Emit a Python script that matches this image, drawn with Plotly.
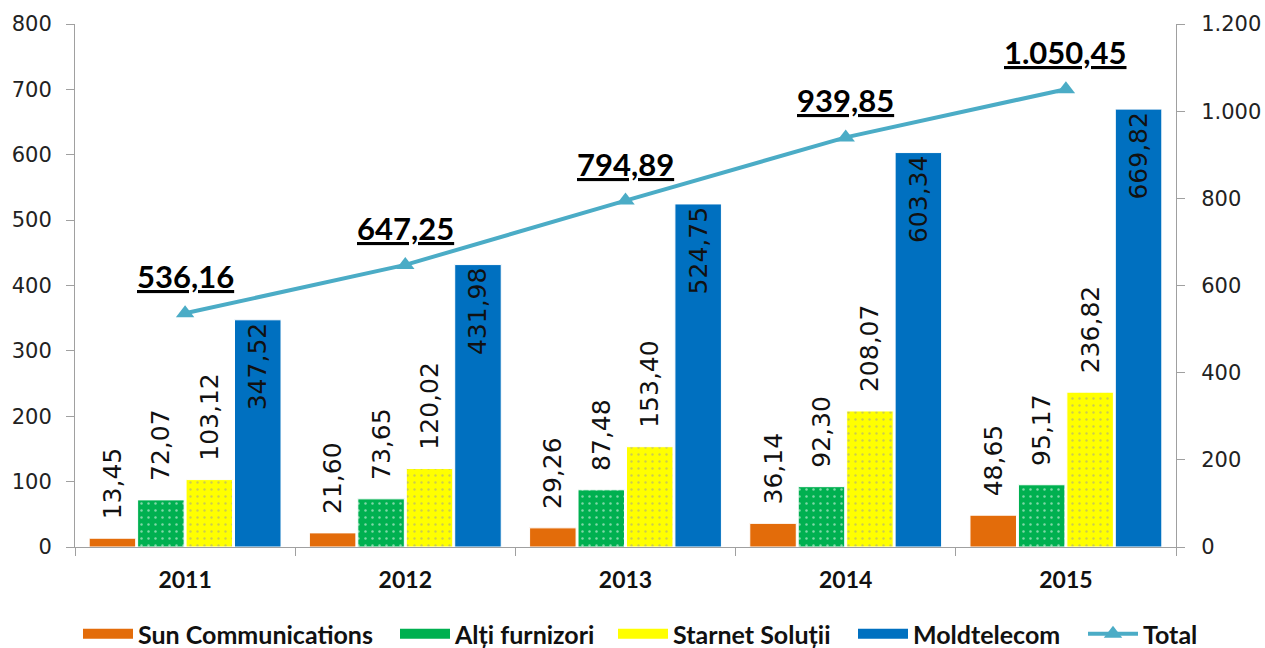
import plotly.graph_objects as go

years = ["2011", "2012", "2013", "2014", "2015"]
sun = [13.45, 21.60, 29.26, 36.14, 48.65]
alti = [72.07, 73.65, 87.48, 92.30, 95.17]
starnet = [103.12, 120.02, 153.40, 208.07, 236.82]
moldtelecom = [347.52, 431.98, 524.75, 603.34, 669.82]
total = [536.16, 647.25, 794.89, 939.85, 1050.45]
left_ticks = [0, 100, 200, 300, 400, 500, 600, 700, 800]
right_ticks = [0, 200, 400, 600, 800, 1000, 1200]
right_ticktext = ["0", "200", "400", "600", "800", "1.000", "1.200"]


def ro(v):
    s = f"{v:,.2f}"
    return s.replace(",", "X").replace(".", ",").replace("X", ".")


FONT = "Lato"
LBLFONT = "DejaVu Sans"
LBL = dict(family=LBLFONT, size=25, color="#111111")
PAD = "\u00a0\u00a0"
C_SUN, C_ALTI, C_STAR, C_MOLD, C_TOT = "#E36C0A", "#00B050", "#FFFF00", "#0070C0", "#4BACC6"

fig = go.Figure()

fig.add_trace(go.Bar(
    name="Sun Communications", x=years, y=sun, showlegend=False,
    marker=dict(color=C_SUN, line=dict(color="white", width=1)),
    text=[PAD + ro(v) for v in sun], textposition="outside", textangle=-90,
    textfont=LBL, constraintext="none", cliponaxis=False,
))
fig.add_trace(go.Bar(
    name="Alți furnizori", x=years, y=alti, showlegend=False,
    marker=dict(color=C_ALTI, line=dict(color="white", width=1),
                pattern=dict(shape=".", bgcolor=C_ALTI, fgcolor="#FFFFFF",
                             size=7, solidity=0.1)),
    text=[PAD + ro(v) for v in alti], textposition="outside", textangle=-90,
    textfont=LBL, constraintext="none", cliponaxis=False,
))
fig.add_trace(go.Bar(
    name="Starnet Soluții", x=years, y=starnet, showlegend=False,
    marker=dict(color=C_STAR, line=dict(color="white", width=1),
                pattern=dict(shape=".", bgcolor=C_STAR, fgcolor="#999999",
                             size=7, solidity=0.1)),
    text=[PAD + ro(v) for v in starnet], textposition="outside", textangle=-90,
    textfont=LBL, constraintext="none", cliponaxis=False,
))
fig.add_trace(go.Bar(
    name="Moldtelecom", x=years, y=moldtelecom, showlegend=False,
    marker=dict(color=C_MOLD, line=dict(color="white", width=1)),
    text=[ro(v) for v in moldtelecom], textposition="inside", insidetextanchor="end",
    textangle=-90, insidetextfont=LBL, constraintext="none",
))
fig.add_trace(go.Scatter(
    name="Total", x=years, y=total, yaxis="y2", mode="lines+markers", legend="legend5",
    line=dict(color=C_TOT, width=4),
    marker=dict(symbol="triangle-up", size=16, color=C_TOT),
))

# legend swatches (wide rectangles, as in the original legend)
for nm, col, lg in [("Sun Communications", C_SUN, "legend"),
                    ("Alți furnizori", C_ALTI, "legend2"),
                    ("Starnet Soluții", C_STAR, "legend3"),
                    ("Moldtelecom", C_MOLD, "legend4")]:
    fig.add_trace(go.Scatter(
        name=nm, x=[None], y=[None], mode="lines", legend=lg,
        line=dict(color=col, width=10), hoverinfo="skip",
    ))

for i, v in enumerate(total):
    fig.add_annotation(
        x=i, y=v, xref="x", yref="y2", text="<u>" + ro(v) + "</u>", showarrow=False,
        yshift=37, font=dict(family=FONT, size=31, color="#000000", weight="bold"),
    )

axis_col = "#A0A0A0"
LEGFONT = dict(family=FONT, size=25, color="#111111", weight="bold")


def leg(xpx, iw=50):
    return dict(
        orientation="h", xref="container", x=xpx / 1265, xanchor="left",
        yref="container", y=1 - 634 / 648, yanchor="middle",
        font=LEGFONT, itemwidth=iw, bgcolor="rgba(0,0,0,0)",
    )


fig.update_layout(
    width=1265, height=648,
    margin=dict(l=75, r=89, t=24, b=101),
    paper_bgcolor="white", plot_bgcolor="white",
    barmode="group", bargap=0.12, bargroupgap=0.04,
    font=dict(family=FONT, color="#222222"),
    xaxis=dict(
        type="category", range=[-0.5, len(years) - 0.5], automargin=False,
        showline=True, linecolor=axis_col, linewidth=1,
        ticks="outside", tickson="boundaries", ticklen=8, tickcolor=axis_col,
        ticklabelstandoff=12,
        tickfont=dict(family=FONT, size=23, color="#111111", weight="bold"),
        showgrid=False,
    ),
    yaxis=dict(
        range=[0, 800], tickvals=left_ticks, ticktext=[str(t) for t in left_ticks],
        automargin=False, ticklabelstandoff=10,
        showline=True, linecolor=axis_col, linewidth=1,
        ticks="outside", ticklen=8, tickcolor=axis_col, showgrid=False, zeroline=False,
        tickfont=dict(family=LBLFONT, size=21, color="#222222"),
    ),
    yaxis2=dict(
        range=[0, 1200], tickvals=right_ticks, ticktext=right_ticktext,
        overlaying="y", side="right", automargin=False, ticklabelstandoff=12,
        showline=True, linecolor=axis_col, linewidth=1,
        ticks="outside", ticklen=8, tickcolor=axis_col, showgrid=False, zeroline=False,
        tickfont=dict(family=LBLFONT, size=21, color="#222222"),
    ),
    legend=leg(78),
    legend2=leg(395),
    legend3=leg(613),
    legend4=leg(853),
    legend5=leg(1083),
    showlegend=True,
)

fig.write_html(
    "out.html",
    config={"displayModeBar": False},
    post_script="document.body.style.margin='0px';document.body.style.overflow='hidden';",
)
